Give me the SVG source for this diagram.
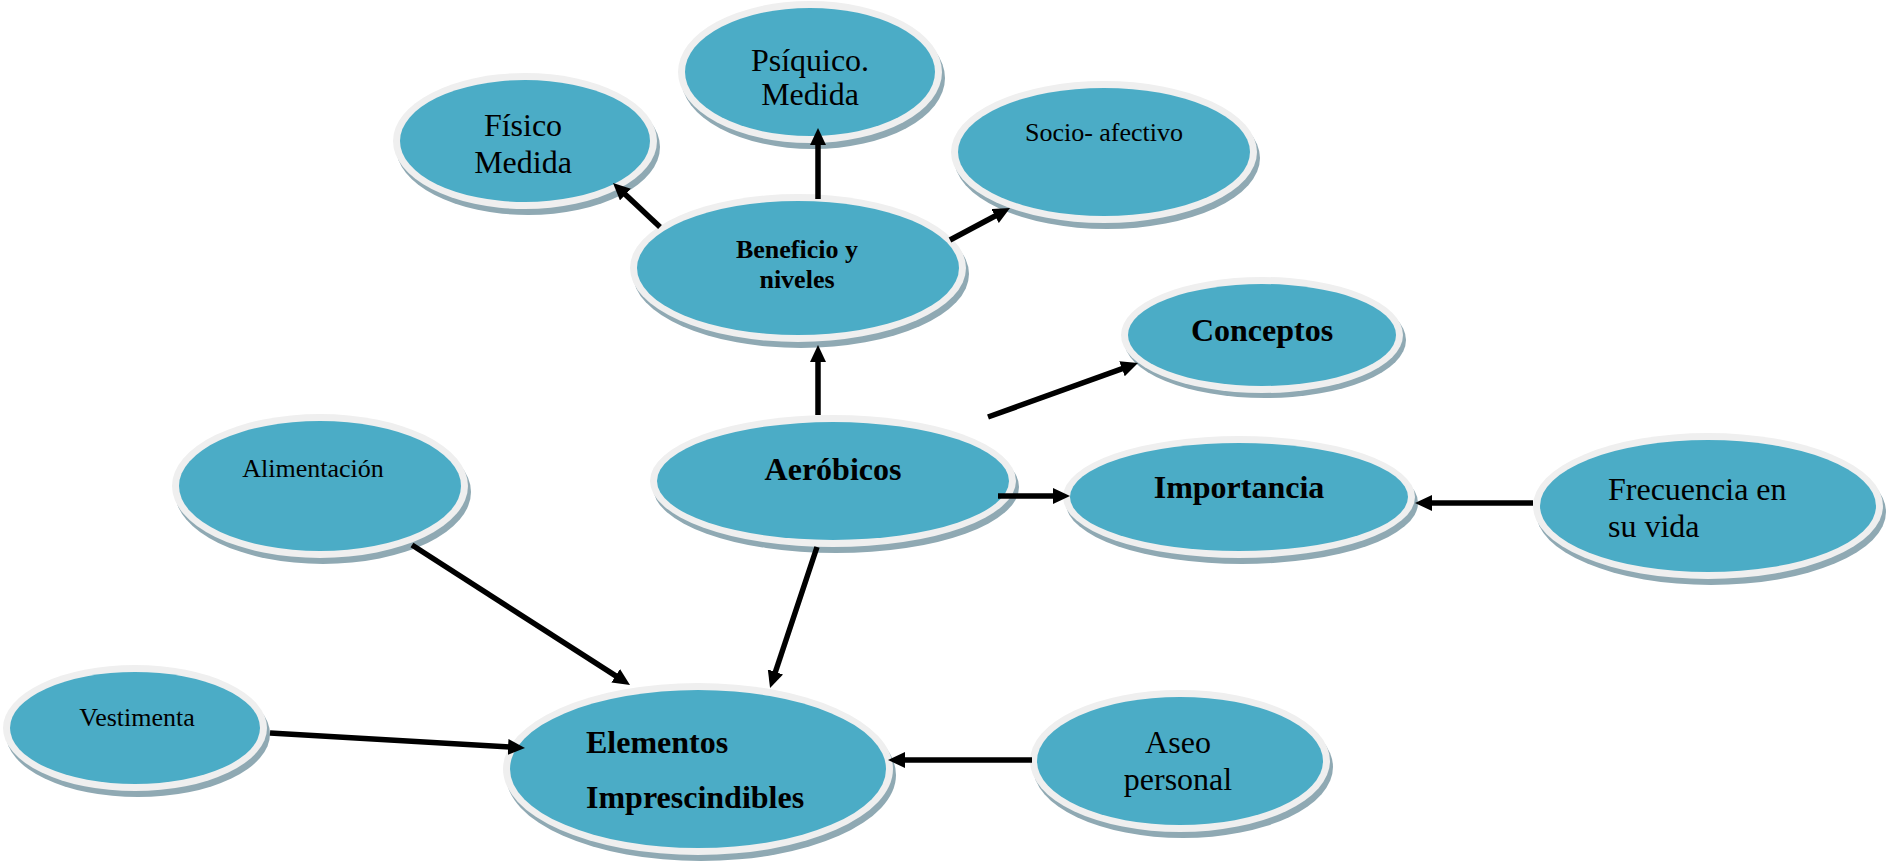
<svg xmlns="http://www.w3.org/2000/svg" width="1888" height="864" viewBox="0 0 1888 864">
<style>
.sh{fill:#8FA9B3}
.rim{fill:#EFEFEF}
.body{fill:#4BACC6}
.t{font-family:"Liberation Serif","Times New Roman",serif;fill:#000}
.n32{font-size:32px}
.n26{font-size:26px}
.b32{font-size:32px;font-weight:bold}
.b26{font-size:26px;font-weight:bold}
.c{text-anchor:middle}
.ln{stroke:#000;stroke-width:5.5;fill:none;marker-end:url(#ah)}
</style>
<defs>
<marker id="ah" markerUnits="userSpaceOnUse" markerWidth="18" markerHeight="16" refX="7" refY="8" orient="auto">
<path d="M0,0 L17,8 L0,16 z" fill="#000"/>
</marker>
</defs>
<rect width="1888" height="864" fill="#fff"/>

<g id="fisico">
<ellipse class="sh" cx="528" cy="147" rx="132" ry="68"/>
<ellipse class="rim" cx="525" cy="141" rx="132" ry="68"/>
<ellipse class="body" cx="525" cy="141" rx="125" ry="61"/>
<text class="t n32 c" x="523" y="136">Físico</text>
<text class="t n32 c" x="523" y="173">Medida</text>
</g>

<g id="psiquico">
<ellipse class="sh" cx="813" cy="78" rx="132" ry="71"/>
<ellipse class="rim" cx="810" cy="72" rx="132" ry="71"/>
<ellipse class="body" cx="810" cy="72" rx="125" ry="64"/>
<text class="t n32 c" x="810" y="71">Psíquico.</text>
<text class="t n32 c" x="810" y="105">Medida</text>
</g>

<g id="socio">
<ellipse class="sh" cx="1107" cy="158" rx="153" ry="71"/>
<ellipse class="rim" cx="1104" cy="152" rx="153" ry="71"/>
<ellipse class="body" cx="1104" cy="152" rx="146" ry="64"/>
<text class="t n26 c" x="1104" y="141">Socio- afectivo</text>
</g>

<g id="beneficio">
<ellipse class="sh" cx="801" cy="274" rx="168" ry="74"/>
<ellipse class="rim" cx="798" cy="268" rx="168" ry="74"/>
<ellipse class="body" cx="798" cy="268" rx="161" ry="67"/>
<text class="t b26 c" x="797" y="258">Beneficio y</text>
<text class="t b26 c" x="797" y="288">niveles</text>
</g>

<g id="conceptos">
<ellipse class="sh" cx="1265" cy="340" rx="141" ry="58"/>
<ellipse class="rim" cx="1262" cy="335" rx="141" ry="58"/>
<ellipse class="body" cx="1262" cy="335" rx="134" ry="51"/>
<text class="t b32 c" x="1262" y="341">Conceptos</text>
</g>

<g id="aerobicos">
<ellipse class="sh" cx="836" cy="487" rx="183" ry="66"/>
<ellipse class="rim" cx="833" cy="481" rx="183" ry="66"/>
<ellipse class="body" cx="833" cy="481" rx="176" ry="59"/>
<text class="t b32 c" x="833" y="480">Aeróbicos</text>
</g>

<g id="importancia">
<ellipse class="sh" cx="1242" cy="503" rx="176" ry="61"/>
<ellipse class="rim" cx="1239" cy="497" rx="176" ry="61"/>
<ellipse class="body" cx="1239" cy="497" rx="169" ry="54"/>
<text class="t b32 c" x="1239" y="498">Importancia</text>
</g>

<g id="frecuencia">
<ellipse class="sh" cx="1711" cy="512" rx="175" ry="73"/>
<ellipse class="rim" cx="1708" cy="506" rx="175" ry="73"/>
<ellipse class="body" cx="1708" cy="506" rx="168" ry="66"/>
<text class="t n32" x="1608" y="500">Frecuencia en</text>
<text class="t n32" x="1608" y="537">su vida</text>
</g>

<g id="alimentacion">
<ellipse class="sh" cx="323" cy="492" rx="148" ry="72"/>
<ellipse class="rim" cx="320" cy="486" rx="148" ry="72"/>
<ellipse class="body" cx="320" cy="486" rx="141" ry="65"/>
<text class="t n26 c" x="313" y="477">Alimentación</text>
</g>

<g id="vestimenta">
<ellipse class="sh" cx="138" cy="734" rx="132" ry="63"/>
<ellipse class="rim" cx="135" cy="728" rx="132" ry="63"/>
<ellipse class="body" cx="135" cy="728" rx="125" ry="56"/>
<text class="t n26 c" x="137" y="726">Vestimenta</text>
</g>

<g id="elementos">
<ellipse class="sh" cx="701" cy="775" rx="195" ry="86"/>
<ellipse class="rim" cx="698" cy="769" rx="195" ry="86"/>
<ellipse class="body" cx="698" cy="769" rx="188" ry="79"/>
<text class="t b32" x="586" y="753">Elementos</text>
<text class="t b32" x="586" y="808">Imprescindibles</text>
</g>

<g id="aseo">
<ellipse class="sh" cx="1183" cy="767" rx="150" ry="71"/>
<ellipse class="rim" cx="1180" cy="761" rx="150" ry="71"/>
<ellipse class="body" cx="1180" cy="761" rx="143" ry="64"/>
<text class="t n32 c" x="1178" y="753">Aseo</text>
<text class="t n32 c" x="1178" y="790">personal</text>
</g>

<g id="connectors">
<line class="ln" x1="660" y1="227" x2="620.3" y2="189.8"/>
<line class="ln" x1="818" y1="199" x2="818" y2="138"/>
<line class="ln" x1="950" y1="240" x2="1001.2" y2="212.7"/>
<line class="ln" x1="818" y1="415" x2="818" y2="355"/>
<line class="ln" x1="988" y1="417" x2="1128.6" y2="366.4"/>
<line class="ln" x1="998" y1="496" x2="1060" y2="496"/>
<line class="ln" x1="1533" y1="503" x2="1425" y2="503"/>
<line class="ln" x1="817" y1="547" x2="773.2" y2="678.5"/>
<line class="ln" x1="412" y1="545" x2="621.6" y2="679.6"/>
<line class="ln" x1="270" y1="733" x2="515" y2="747.4"/>
<line class="ln" x1="1032" y1="760" x2="898" y2="760"/>
</g>
</svg>
